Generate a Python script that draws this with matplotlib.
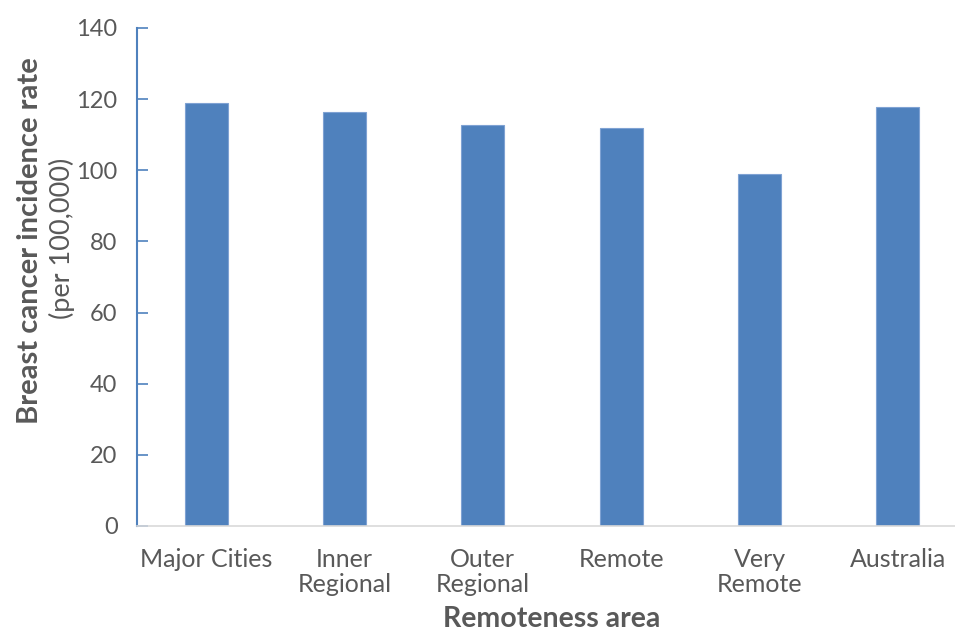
import matplotlib.pyplot as plt

areas = ["Major Cities", "Inner\nRegional", "Outer\nRegional", "Remote", "Very\nRemote", "Australia"]
rates = [118.8, 116.5, 112.7, 111.9, 98.9, 117.7]
yticks = [0, 20, 40, 60, 80, 100, 120, 140]

bar_color = "#4F81BD"
text_color = "#595959"
plt.rcParams['font.family'] = ['Lato', 'DejaVu Sans']

fig = plt.figure(figsize=(9.55, 6.35), dpi=100)
ax = fig.add_axes([137 / 955, (635 - 526) / 635, 830 / 955, 498 / 635])

x = list(range(len(areas)))
ax.bar(x, rates, width=0.31, color=bar_color, edgecolor="#7FA2D3", linewidth=0.8, zorder=2)

ax.set_xlim(-0.5, 5.5)
ax.set_ylim(0, 140)
ax.set_yticks(yticks)
ax.set_xticks(x)
ax.set_xticklabels(areas, fontsize=18, color=text_color, linespacing=1.1)
ax.tick_params(axis='y', direction='in', length=8, width=1.2, color=bar_color,
               labelsize=17, labelcolor=text_color, pad=14)
ax.tick_params(axis='x', length=0, pad=16)

for s in ['top', 'right']:
    ax.spines[s].set_visible(False)
ax.spines['left'].set_color(bar_color)
ax.spines['left'].set_linewidth(1.5)
ax.spines['bottom'].set_color("#D9D9D9")
ax.spines['bottom'].set_linewidth(1.2)

fig.text(30 / 955, 1 - 241 / 635, "Breast cancer incidence rate", rotation=90,
         ha='center', va='center', fontsize=21, fontweight='bold', color=text_color)
fig.text(62 / 955, 1 - 238 / 635, "(per 100,000)", rotation=90,
         ha='center', va='center', fontsize=19.5, color=text_color)
fig.text(552 / 955, 1 - 619 / 635, "Remoteness area", ha='center', va='center',
         fontsize=20.5, fontweight='bold', color=text_color)

fig.savefig("out.png", dpi=100)
